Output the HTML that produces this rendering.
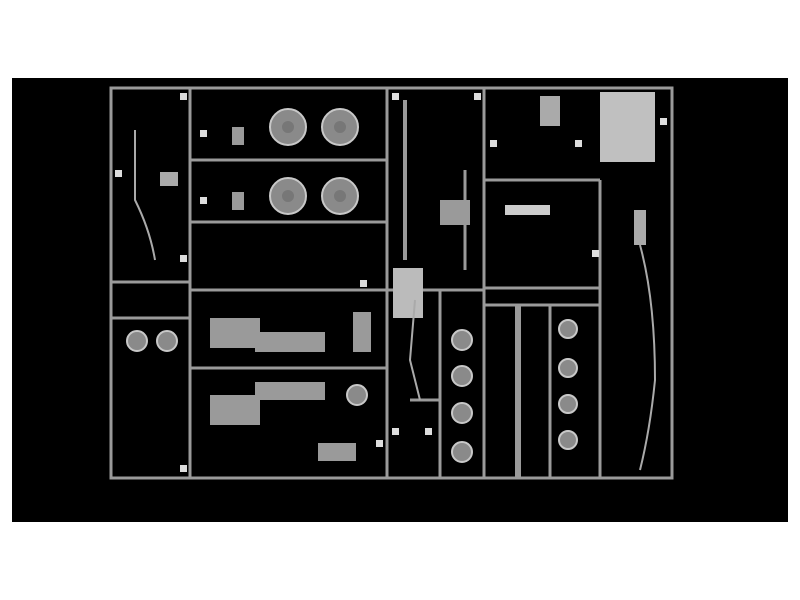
<!DOCTYPE html>
<html><head><style>
html,body{margin:0;padding:0;background:#fff;width:800px;height:600px;overflow:hidden}
</style></head><body>
<svg width="800" height="600" xmlns="http://www.w3.org/2000/svg">
<rect x="0" y="0" width="800" height="600" fill="#fff"/>
<rect x="12" y="78" width="776" height="444" fill="#000"/>
<g stroke="#9a9a9a" stroke-width="3" fill="none">
<!-- outer frame -->
<rect x="111" y="88" width="561" height="390"/>
<line x1="190" y1="88" x2="190" y2="478"/>
<line x1="387" y1="88" x2="387" y2="478"/>
<line x1="484" y1="88" x2="484" y2="478"/>
<line x1="600" y1="180" x2="600" y2="478"/>
<line x1="111" y1="282" x2="190" y2="282"/>
<line x1="111" y1="318" x2="190" y2="318"/>
<line x1="190" y1="290" x2="387" y2="290"/>
<line x1="387" y1="290" x2="484" y2="290"/>
<line x1="484" y1="288" x2="600" y2="288"/>
<line x1="484" y1="180" x2="600" y2="180"/>
<line x1="484" y1="305" x2="600" y2="305"/>
<line x1="190" y1="160" x2="387" y2="160"/>
<line x1="190" y1="222" x2="387" y2="222"/>
<line x1="190" y1="368" x2="387" y2="368"/>
<line x1="440" y1="290" x2="440" y2="478"/>
<line x1="410" y1="400" x2="440" y2="400"/>
<line x1="550" y1="305" x2="550" y2="478"/>
<line x1="518" y1="305" x2="518" y2="478" stroke-width="6"/>
<line x1="405" y1="100" x2="405" y2="260" stroke-width="4"/>
<line x1="465" y1="170" x2="465" y2="270"/>
</g>
<!-- wheels -->
<g fill="#8a8a8a" stroke="#c8c8c8" stroke-width="2">
<circle cx="288" cy="127" r="18"/><circle cx="340" cy="127" r="18"/>
<circle cx="288" cy="196" r="18"/><circle cx="340" cy="196" r="18"/>
<circle cx="462" cy="340" r="10"/><circle cx="462" cy="376" r="10"/>
<circle cx="462" cy="413" r="10"/><circle cx="462" cy="452" r="10"/>
<circle cx="568" cy="329" r="9"/><circle cx="568" cy="368" r="9"/>
<circle cx="568" cy="404" r="9"/><circle cx="568" cy="440" r="9"/>
<circle cx="137" cy="341" r="10"/><circle cx="167" cy="341" r="10"/>
<circle cx="357" cy="395" r="10"/>
</g>
<g fill="#777">
<circle cx="288" cy="127" r="6"/><circle cx="340" cy="127" r="6"/>
<circle cx="288" cy="196" r="6"/><circle cx="340" cy="196" r="6"/>
</g>
<!-- engine blocks / parts -->
<g fill="#9a9a9a">
<rect x="210" y="318" width="50" height="30"/><rect x="255" y="332" width="70" height="20"/>
<rect x="210" y="395" width="50" height="30"/><rect x="255" y="382" width="70" height="18"/>
<rect x="353" y="312" width="18" height="40"/>
<rect x="318" y="443" width="38" height="18"/>
<rect x="600" y="92" width="55" height="70" fill="#c0c0c0"/>
<rect x="505" y="205" width="45" height="10" fill="#ccc"/>
<rect x="232" y="127" width="12" height="18"/><rect x="232" y="192" width="12" height="18"/>
<rect x="440" y="200" width="30" height="25"/>
<rect x="393" y="268" width="30" height="50" fill="#bbb"/>
<rect x="634" y="210" width="12" height="35" fill="#aaa"/>
<rect x="160" y="172" width="18" height="14" fill="#aaa"/>
<rect x="540" y="96" width="20" height="30" fill="#aaa"/>
</g>
<g stroke="#aaa" stroke-width="2" fill="none">
<path d="M640 245 Q655 300 655 380 Q650 430 640 470"/>
<path d="M135 130 L135 200 Q150 230 155 260"/>
<path d="M415 300 L410 360 L420 400"/>
</g>
<!-- small tabs -->
<g fill="#ddd">
<rect x="180" y="93" width="7" height="7"/><rect x="115" y="170" width="7" height="7"/>
<rect x="180" y="255" width="7" height="7"/><rect x="180" y="465" width="7" height="7"/>
<rect x="392" y="93" width="7" height="7"/><rect x="474" y="93" width="7" height="7"/>
<rect x="490" y="140" width="7" height="7"/><rect x="575" y="140" width="7" height="7"/>
<rect x="392" y="428" width="7" height="7"/><rect x="425" y="428" width="7" height="7"/>
<rect x="200" y="130" width="7" height="7"/><rect x="200" y="197" width="7" height="7"/>
<rect x="360" y="280" width="7" height="7"/><rect x="592" y="250" width="7" height="7"/>
<rect x="660" y="118" width="7" height="7"/><rect x="376" y="440" width="7" height="7"/>
</g>
</svg>
</body></html>
